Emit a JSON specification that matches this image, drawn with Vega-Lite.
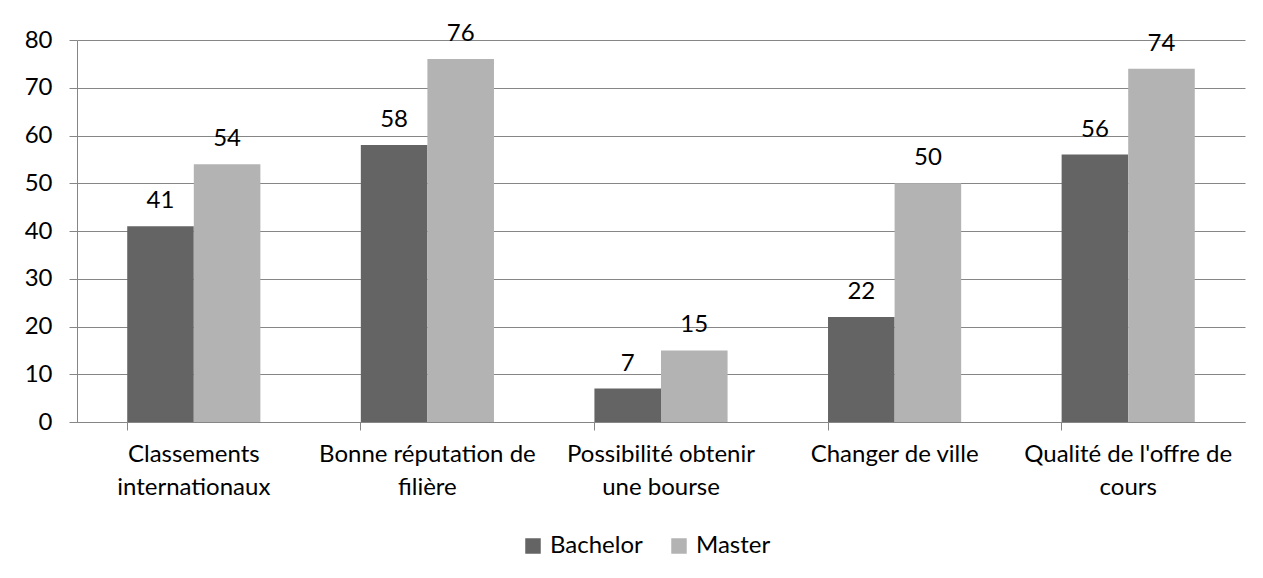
{
  "$schema": "https://vega.github.io/schema/vega-lite/v6.json",
  "autosize": {"type": "none"},
  "width": 1168,
  "height": 382,
  "padding": {"left": 77, "top": 40, "right": 18, "bottom": 156},
  "background": "white",
  "config": {
    "view": {"stroke": null},
    "font": "Lato",
    "axis": {"labelFont": "Lato", "labelColor": "#000000", "labelFontSize": 24, "domainColor": "#868686", "tickColor": "#868686", "gridColor": "#868686", "titleFont": "Lato"},
    "legend": {"labelFont": "Lato", "labelFontSize": 24, "labelColor": "#000000"}
  },
  "data": {
    "values": [
      {"category": "Classements internationaux", "series": "Bachelor", "value": 41},
      {"category": "Classements internationaux", "series": "Master", "value": 54},
      {"category": "Bonne réputation de filière", "series": "Bachelor", "value": 58},
      {"category": "Bonne réputation de filière", "series": "Master", "value": 76},
      {"category": "Possibilité obtenir une bourse", "series": "Bachelor", "value": 7},
      {"category": "Possibilité obtenir une bourse", "series": "Master", "value": 15},
      {"category": "Changer de ville", "series": "Bachelor", "value": 22},
      {"category": "Changer de ville", "series": "Master", "value": 50},
      {"category": "Qualité de l'offre de cours", "series": "Bachelor", "value": 56},
      {"category": "Qualité de l'offre de cours", "series": "Master", "value": 74}
    ]
  },
  "encoding": {
    "x": {
      "field": "category",
      "type": "nominal",
      "sort": null,
      "scale": {"paddingInner": 0.43, "paddingOuter": 0.215},
      "axis": {
        "title": null,
        "labelAngle": 0,
        "bandPosition": 0,
        "tickSize": 8,
        "labelPadding": 12,
        "labelLineHeight": 33,
        "labelLimit": 300,
        "labelExpr": "datum.value == 'Classements internationaux' ? ['Classements','internationaux'] : datum.value == 'Bonne réputation de filière' ? ['Bonne réputation de','filière'] : datum.value == 'Possibilité obtenir une bourse' ? ['Possibilité obtenir','une bourse'] : datum.value == \"Qualité de l'offre de cours\" ? [\"Qualité de l'offre de\",'cours'] : datum.value"
      }
    },
    "xOffset": {"field": "series", "type": "nominal", "sort": ["Bachelor", "Master"]},
    "y": {
      "field": "value",
      "type": "quantitative",
      "scale": {"domain": [0, 80], "nice": false},
      "axis": {"title": null, "values": [0, 10, 20, 30, 40, 50, 60, 70, 80], "tickSize": 8, "labelPadding": 17, "grid": true, "domain": true}
    }
  },
  "layer": [
    {
      "mark": {"type": "bar"},
      "encoding": {
        "color": {
          "field": "series",
          "type": "nominal",
          "sort": ["Bachelor", "Master"],
          "scale": {"domain": ["Bachelor", "Master"], "range": ["#646464", "#b3b3b3"]},
          "legend": {
            "title": null,
            "orient": "none",
            "legendX": 444,
            "legendY": 494,
            "direction": "horizontal",
            "symbolType": "square",
            "symbolSize": 240,
            "symbolStrokeWidth": 0,
            "labelOffset": 5,
            "columnPadding": 24
          }
        }
      }
    },
    {
      "mark": {"type": "text", "baseline": "alphabetic", "dy": -18, "fontSize": 24, "font": "Lato", "color": "#000000"},
      "encoding": {"text": {"field": "value", "type": "quantitative"}}
    }
  ]
}
